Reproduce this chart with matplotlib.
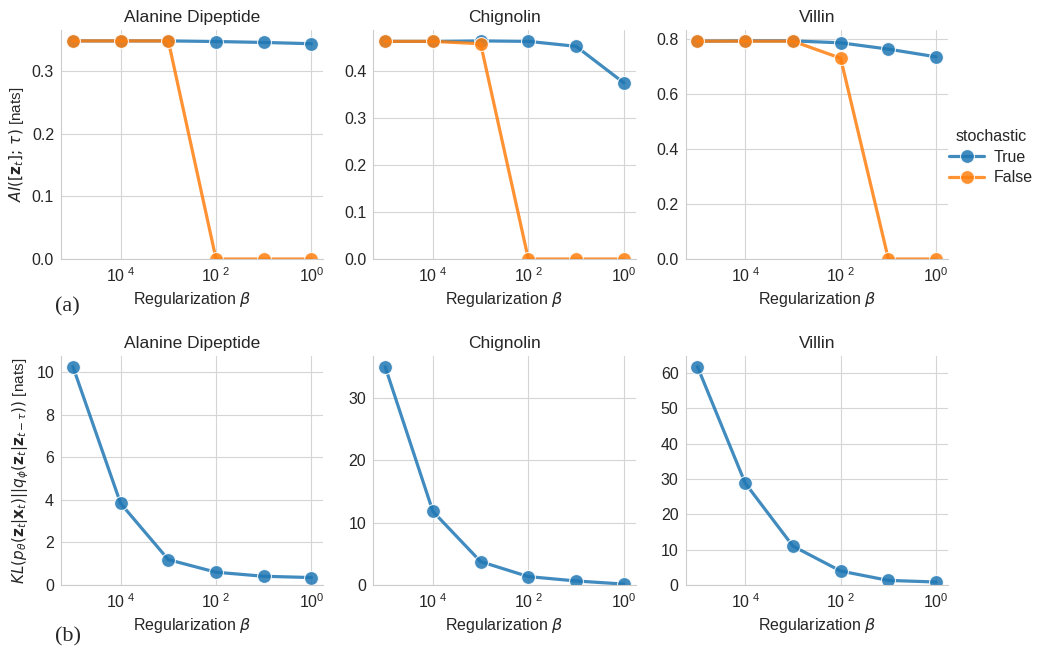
import numpy as np
import matplotlib
matplotlib.use("Agg")
import matplotlib.pyplot as plt
import seaborn as sns

# regularization strengths (beta)
betas = [1e-5, 1e-4, 1e-3, 1e-2, 1e-1, 1e0]
systems = ["Alanine Dipeptide", "Chignolin", "Villin"]

# row (a): autoinformation, stochastic True / False
ai_true = {
    "Alanine Dipeptide": [0.348, 0.348, 0.348, 0.347, 0.3455, 0.3435],
    "Chignolin": [0.462, 0.462, 0.463, 0.462, 0.4515, 0.374],
    "Villin": [0.793, 0.794, 0.794, 0.787, 0.764, 0.736],
}
ai_false = {
    "Alanine Dipeptide": [0.348, 0.348, 0.348, 0.0, 0.0, 0.0],
    "Chignolin": [0.462, 0.462, 0.457, 0.0, 0.0, 0.0],
    "Villin": [0.793, 0.793, 0.793, 0.731, 0.0, 0.0],
}
# row (b): KL term, stochastic only
kl_true = {
    "Alanine Dipeptide": [10.25, 3.83, 1.19, 0.6, 0.41, 0.35],
    "Chignolin": [35.0, 11.8, 3.75, 1.35, 0.65, 0.15],
    "Villin": [61.7, 28.8, 11.0, 3.95, 1.3, 0.85],
}

xtick_vals = [1e-4, 1e-2, 1e0]
xtick_labels = [r"$\mathregular{10^{\ 4}}$", r"$\mathregular{10^{\ 2}}$", r"$\mathregular{10^{0}}$"]

sns.set_style("whitegrid")
plt.rcParams["font.family"] = ["Liberation Sans", "DejaVu Sans"]
plt.rcParams["mathtext.fontset"] = "dejavusans"
plt.rcParams["axes.edgecolor"] = "#cccccc"
plt.rcParams["grid.color"] = "#d5d5d5"

blue = "#1f77b4"
orange = "#ff7f0e"

fig, axes = plt.subplots(2, 3, figsize=(10.42, 6.49), dpi=100)
fig.subplots_adjust(left=0.0585, right=0.9098, bottom=0.0986, top=0.9538,
                    wspace=0.19, hspace=0.4236)

line_kw = dict(marker="o", lw=2.3, markersize=10, markeredgecolor="white",
               markeredgewidth=0.8, alpha=0.85)

for j, name in enumerate(systems):
    ax = axes[0, j]
    ax.plot(betas, ai_true[name], color=blue, label="True", **line_kw)
    ax.plot(betas, ai_false[name], color=orange, label="False", **line_kw)
    ax.set_ylim(bottom=0)

    ax2 = axes[1, j]
    ax2.plot(betas, kl_true[name], color=blue, **line_kw)
    ax2.set_ylim(bottom=0)

for ax, name in zip(axes.flat, systems * 2):
    ax.set_xscale("log")
    ax.set_xticks(xtick_vals)
    ax.set_xticklabels(xtick_labels)
    ax.xaxis.set_minor_locator(matplotlib.ticker.NullLocator())
    ax.set_title(name, fontsize=12.5, color="#262626")
    ax.set_xlabel(r"Regularization $\beta$", fontsize=11.5, color="#262626")
    ax.tick_params(labelsize=11.5, colors="#262626", length=0, pad=5)
    for s in ["top", "right"]:
        ax.spines[s].set_visible(False)

axes[0, 1].set_yticks([0.0, 0.1, 0.2, 0.3, 0.4])
axes[0, 2].set_yticks([0.0, 0.2, 0.4, 0.6, 0.8])
axes[1, 0].set_yticks([0, 2, 4, 6, 8, 10])
axes[1, 1].set_yticks([0, 10, 20, 30])
axes[1, 2].set_yticks([0, 10, 20, 30, 40, 50, 60])

axes[0, 0].set_ylabel(r"$AI([\mathbf{z}_t];\,\tau)$ [nats]", fontsize=11, color="#262626")
axes[1, 0].set_ylabel(r"$KL(p_\theta(\mathbf{z}_t|\mathbf{x}_t)||q_\phi(\mathbf{z}_t|\mathbf{z}_{t-\tau}))$ [nats]",
                      fontsize=11, color="#262626")

handles, labels = axes[0, 2].get_legend_handles_labels()
leg = fig.legend(handles, labels, title="stochastic", loc="center left",
                 bbox_to_anchor=(0.897, 0.758), frameon=False, fontsize=11.5,
                 title_fontsize=11.5, handlelength=2.2, handletextpad=0.6,
                 labelspacing=0.35)

fig.text(0.053, 0.52, "(a)", fontsize=16, family="Liberation Serif")
fig.text(0.053, 0.012, "(b)", fontsize=16, family="Liberation Serif")

fig.savefig("out.png", dpi=100)
